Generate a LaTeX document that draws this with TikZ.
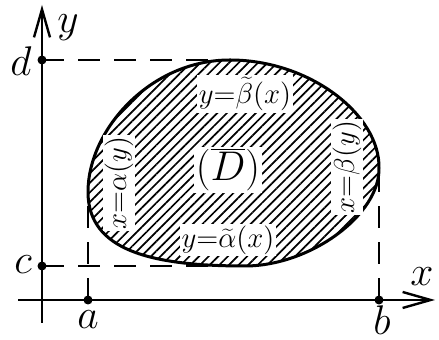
\documentclass[tikz,border=0pt]{standalone}
\usetikzlibrary{arrows.meta,patterns.meta}
\begin{document}
\begin{tikzpicture}[x=0.5pt,y=-0.5pt,
    axis/.style={line width=1.4pt,-{Straight Barb[length=14pt,width=8pt,line width=1.2pt]}},
    guide/.style={line width=0.9pt,dash pattern=on 11pt off 7pt},
    axlabel/.style={font=\fontsize{20}{24}\selectfont},
    curvelabel/.style={font=\fontsize{14}{16}\selectfont,fill=white,inner sep=1pt}]
    \useasboundingbox (0,0) rectangle (439,340);
    % points on the axes
    \coordinate (o) at (42,300);
    \coordinate (d) at (42,60);
    \coordinate (c) at (42,266);
    \coordinate (a) at (88,300);
    \coordinate (b) at (379,300);
    % where the boundary touches the rectangle
    \coordinate (top) at (230,60);
    \coordinate (right) at (379,168);
    \coordinate (bottom) at (245,266);
    \coordinate (left) at (88,192);
    % axes
    \draw[axis] (42,323) -- (42,5) coordinate (ytip);
    \draw[axis] (18,300) -- (435,300) coordinate (xtip);
    % dashed lines
    \draw[guide] (d) -- (top);
    \draw[guide] (c) -- (bottom);
    \draw[guide] (a) -- (left);
    \draw[guide] (b) -- (right);
    % region D
    \def\boundary{(top) .. controls (310,60) and (380,115) .. (right)
        .. controls (380,215) and (310,266) .. (bottom)
        .. controls (150,266) and (88,250) .. (left)
        .. controls (88,130) and (150,60) .. (top) -- cycle}
    \fill[white] \boundary;
    \fill[pattern={Lines[angle=45,distance=3.4pt,line width=0.85pt]}] \boundary;
    \draw[line width=1.5pt] \boundary;
    \foreach \p in {d,c,a,b} \fill (\p) circle (4.5);
    % labels
    \node[axlabel] (ylab) at (68,28) {$y$};
    \node[axlabel] (xlab) at (422,277) {$x$};
    \node[axlabel] (dlab) at (21,61) {$d$};
    \node[axlabel] (clab) at (23,265) {$c$};
    \node[axlabel] (alab) at (88,320) {$a$};
    \node[axlabel] (blab) at (382,320) {$b$};
    \node[curvelabel] (beta) at (245,94) {$y{=}\widetilde\beta(x)$};
    \node[curvelabel] (alpha) at (228,240) {$y{=}\widetilde\alpha(x)$};
    \node[curvelabel,rotate=90] (alphay) at (119,183) {$x{=}\alpha(y)$};
    \node[curvelabel,rotate=90] (betay) at (347,167) {$x{=}\beta(y)$};
    \node[font=\fontsize{20}{24}\selectfont,fill=white,inner sep=1pt] (D) at (228,170) {$(\overline{D})$};
\end{tikzpicture}
\end{document}
